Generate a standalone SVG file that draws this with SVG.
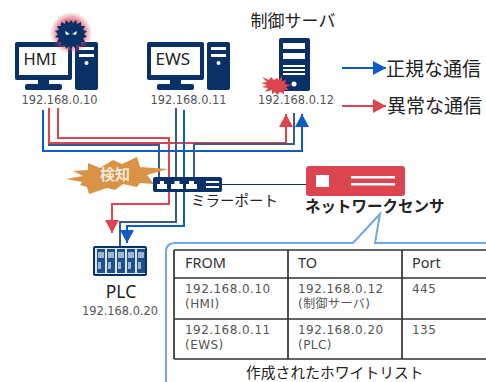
<svg xmlns="http://www.w3.org/2000/svg" width="486" height="382" viewBox="0 0 486 382">
<defs>
<radialGradient id="glow"><stop offset="0.6" stop-color="#d9485a" stop-opacity="0.75"/><stop offset="1" stop-color="#d9485a" stop-opacity="0"/></radialGradient>
<marker id="ab" markerUnits="userSpaceOnUse" markerWidth="14" markerHeight="14" refX="13" refY="7" orient="auto"><path d="M0 0L13 7L0 14Z" fill="#0b5cc9"/></marker>
<marker id="ar" markerUnits="userSpaceOnUse" markerWidth="14" markerHeight="14" refX="13" refY="7" orient="auto"><path d="M0 0L13 7L0 14Z" fill="#dc4450"/></marker>
<g id="pc"><rect x="0" y="0" width="57" height="38" rx="2" class="navy"/><rect x="4" y="5" width="49" height="28" fill="#fff"/><rect x="23" y="38" width="11" height="7" class="navy"/><rect x="10" y="42" width="37" height="6" rx="2" class="navy"/><rect x="60" y="0" width="23" height="48" rx="2" class="navy"/><rect x="64" y="5" width="15" height="3" fill="#fff"/><rect x="64" y="12" width="15" height="3" fill="#fff"/><circle cx="71.500" cy="21" r="2" fill="#fff"/></g>
</defs>
<style>
.navy{fill:#0a3068}
text{font-family:"Liberation Sans","Noto Sans CJK JP",sans-serif}
.ip{font-family:"DejaVu Sans","Noto Sans CJK JP",sans-serif;font-size:11.400px;fill:#555;text-anchor:middle}
.lbl{font-family:"Noto Sans","Noto Sans CJK JP",sans-serif;fill:#222}
.cell{font-family:"DejaVu Sans","Noto Sans CJK JP",sans-serif;font-size:12px;letter-spacing:0.450px;fill:#555}
.hd{font-family:"Noto Sans","Noto Sans CJK JP",sans-serif;font-size:14.500px;fill:#333}
.l{fill:none;stroke-width:2}
.blue{stroke:#0b5cc9}.red{stroke:#dc4450}.dark{stroke:#3c5a86}
.grid{stroke:#333;stroke-width:1.700;fill:none}
</style>

<g id="hmi">
<use href="#pc" x="15" y="42"/>
<text x="23.500" y="65" class="lbl" font-size="16.500">HMI</text>
<text x="59.500" y="104" class="ip">192.168.0.10</text>
<g id="threat">
<circle cx="71" cy="33" r="21" fill="url(#glow)"/>
<path d="M71 20l2 3 3-3 1 4 4-2 0 4 4 0-2 4 4 1-3 3 3 3-4 1 2 4-4 0 0 4-4-1-1 4-3-3-2 3-2-3-3 3-1-4-4 1 0-4-4 0 2-4-4-1 3-3-3-3 4-1-2-4 4 0 0-4 4 2 1-4 3 3z" fill="#0a3068"/>
<path d="M65 31l5 3-4 1zM77 31l-5 3 4 1z" fill="#fff"/>
</g>
</g>

<g id="ews">
<use href="#pc" x="147" y="42"/>
<text x="155.500" y="65" class="lbl" font-size="17">EWS</text>
<text x="188.500" y="104" class="ip">192.168.0.11</text>
</g>

<g id="server">
<text x="293" y="27" class="lbl" font-size="17" text-anchor="middle">制御サーバ</text>
<rect x="279" y="38" width="31" height="53" rx="2" class="navy"/>
<rect x="283" y="43" width="22" height="6" fill="#fff"/>
<rect x="283" y="53" width="22" height="6" fill="#fff"/>
<rect x="283" y="65" width="22" height="2" fill="#fff"/>
<rect x="283" y="69" width="22" height="2" fill="#fff"/>
<rect x="283" y="73" width="22" height="2" fill="#fff"/>
<circle cx="294" cy="84" r="2.500" fill="#fff"/>
<path d="M262 77l7 3 2-3 3 3 3-2 2 2 3-4 0 5 4-1-1 4 6 1-5 2 3 3-5 0 0 4-4-2-3 3-2-3-3 2 0-4-7 2 3-4-6-1 5-2-6-2 6-1z" fill="#dc4450"/>
<text x="296" y="104" class="ip">192.168.0.12</text>
</g>

<g id="legend">
<text x="386" y="76" class="lbl" font-size="19">正規な通信</text>
<text x="387" y="113" class="lbl" font-size="19">異常な通信</text>
</g>

<g id="connectors">
<path class="l dark" d="M49 108V145H159V178"/>
<path class="l red" d="M49 108V143H286V114" marker-end="url(#ar)"/>
<path class="l red" d="M58 108V138H169V204H112V233" marker-end="url(#ar)"/>
<path class="l blue" d="M43 110V151H302V114" marker-end="url(#ab)"/>
<path class="l dark" d="M176 108V222H120V247"/>
<path class="l blue" d="M184 110V226H127V243" marker-end="url(#ab)"/>
<path class="l dark" d="M194 178V144H294V113"/>
<path d="M222 184.500H306" stroke="#0a3068" stroke-width="1.200" fill="none"/>
<path class="l blue" d="M342 68H386" marker-end="url(#ab)"/>
<path class="l red" d="M342 106H386" marker-end="url(#ar)"/>
</g>

<g id="detect">
<path d="M66 179L83 176 73 171 88 170 88 163 100 168 113 160 122 164 137 157 140 167 168 169 147 175 154 184 140 183 137 187 123 184 115 190 107 188 89 194 87 187 80 185 82 182Z" fill="#da9246"/>
<text x="115" y="180" font-size="15" font-weight="bold" fill="#f5e9da" text-anchor="middle">検知</text>
</g>

<g id="switch">
<rect x="153" y="177" width="69" height="15" rx="2" class="navy"/>
<path d="M157 189v-5h3v-3h4v3h3v5zM171 189v-5h3.500v-3h5v3h3.500v5zM186 189v-5h3v-3h5v3h3v5z" fill="#fff"/>
<rect x="206" y="181" width="13" height="2" fill="#fff"/>
<rect x="206" y="186" width="13" height="2" fill="#fff"/>
<text x="191" y="206" class="lbl" font-size="14.500">ミラーポート</text>
</g>

<g id="sensor">
<rect x="306" y="166" width="99" height="30" rx="3" fill="#dc4450"/>
<rect x="316" y="175" width="13" height="12" fill="#fff"/>
<rect x="351" y="176" width="44" height="2.500" fill="#fff"/>
<rect x="351" y="183" width="44" height="2.500" fill="#fff"/>
<text x="305" y="212" font-size="15.500" font-weight="bold" fill="#222">ネットワークセンサ</text>
</g>

<g id="plc">
<rect x="93" y="246" width="54" height="30" rx="2" class="navy"/>
<rect x="95" y="248" width="50" height="26" fill="#dfe7f1"/>
<g fill="#1d4f8c">
<rect x="97" y="249" width="8" height="24"/><rect x="107" y="249" width="8" height="24"/><rect x="117" y="249" width="8" height="24"/><rect x="127" y="249" width="8" height="24"/><rect x="137" y="249" width="8" height="24"/>
</g>
<g fill="#9fb6d2">
<rect x="98" y="252" width="6" height="6"/><rect x="108" y="252" width="6" height="6"/><rect x="118" y="252" width="6" height="6"/><rect x="128" y="252" width="6" height="6"/><rect x="138" y="252" width="6" height="6"/>
<rect x="98" y="262" width="3" height="7"/><rect x="108" y="262" width="3" height="7"/><rect x="118" y="262" width="3" height="7"/><rect x="128" y="262" width="3" height="7"/><rect x="138" y="262" width="3" height="7"/>
</g>
<text x="121" y="298" font-size="17.500" class="lbl" text-anchor="middle">PLC</text>
<text x="120" y="315" class="ip">192.168.0.20</text>
</g>

<g id="whitelist">
<path d="M166 382V252Q166 243 175 243H353L380 214 375 243H486" fill="none" stroke="#6ea6ea" stroke-width="2"/>
<path class="grid" d="M174 250H486M174 278H486M174 319H486M174 359H486M174 250V359M288 250V359M402 250V359"/>
<text x="185" y="268" class="hd">FROM</text>
<text x="298" y="268" class="hd">TO</text>
<text x="412" y="268" class="hd">Port</text>
<text x="185" y="293" class="cell">192.168.0.10</text>
<text x="185" y="308" class="cell">(HMI)</text>
<text x="298" y="293" class="cell">192.168.0.12</text>
<text x="298" y="308" class="cell">(制御サーバ)</text>
<text x="412" y="293" class="cell">445</text>
<text x="185" y="334" class="cell">192.168.0.11</text>
<text x="185" y="349" class="cell">(EWS)</text>
<text x="298" y="334" class="cell">192.168.0.20</text>
<text x="298" y="349" class="cell">(PLC)</text>
<text x="412" y="334" class="cell">135</text>
<text x="246" y="378" class="lbl" font-size="14.800">作成されたホワイトリスト</text>
</g>
</svg>
